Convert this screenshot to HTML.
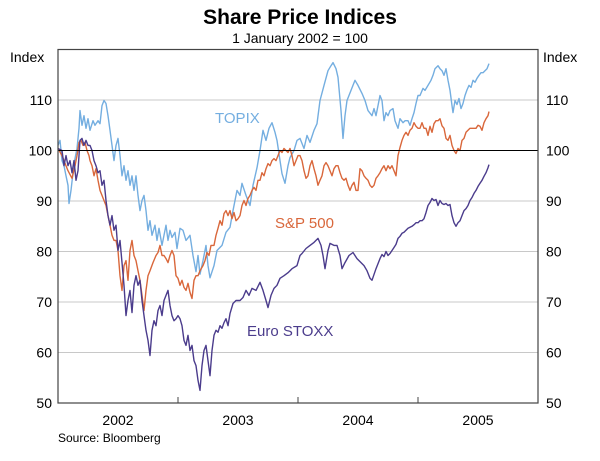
<!DOCTYPE html>
<html><head><meta charset="utf-8"><style>
body{margin:0;background:#fff;}
svg{display:block;font-family:"Liberation Sans",Arial,sans-serif;}
</style></head><body>
<svg id="chart" width="600" height="461" viewBox="0 0 600 461">
<text x="300" y="24" text-anchor="middle" font-size="21" font-weight="bold">Share Price Indices</text>
<text x="300" y="43" text-anchor="middle" font-size="14">1 January 2002 = 100</text>
<text x="10" y="62" font-size="14">Index</text>
<text x="543" y="62" font-size="14">Index</text>
<g id="grid"></g><g id="series"></g><g id="axes"></g>
<text x="215" y="123" font-size="15" fill="#74aee0">TOPIX</text>
<text x="275" y="228" font-size="15" fill="#d9673b">S&amp;P 500</text>
<text x="247" y="336" font-size="15" fill="#4b3c8c">Euro STOXX</text>
<text x="58" y="442" font-size="12">Source: Bloomberg</text>
</svg>
<script>
const yTicks=[50,60,70,80,90,100,110];
const years=["2002","2003","2004","2005"];
const topixMonths=[0,0.2,0.4,0.6,0.8,1.0,1.1,1.3,1.5,1.7,1.9,2.1,2.2,2.4,2.6,2.8,3.0,3.2,3.5,3.7,4.0,4.2,4.4,4.6,4.8,5.0,5.2,5.4,5.6,5.8,6.0,6.2,6.4,6.6,6.8,7.0,7.2,7.4,7.6,7.8,8.0,8.2,8.4,8.6,8.8,9.0,9.2,9.4,9.7,9.9,10.1,10.4,10.6,10.8,11.0,11.2,11.4,11.7,11.9,12.2,12.5,12.8,13.2,13.5,13.8,14.0,14.2,14.5,14.8,15.0,
15.2,15.6,15.9,16.4,16.8,17.2,17.5,17.9,18.2,18.4,18.8,19.2,19.5,19.9,20.2,20.5,20.8,21.1,21.4,21.7,21.9,22.2,22.4,22.7,23.0,23.2,23.6,23.9,24.2,24.6,24.9,25.2,25.6,25.9,26.2,26.6,27.0,27.3,27.5,27.8,28.0,28.3,28.5,28.7,28.9,29.3,29.7,30.0,30.4,30.7,31.0,
31.4,31.6,31.8,32.0,32.2,32.4,32.6,32.8,33.0,33.2,33.5,33.7,34.0,34.2,34.5,34.7,35.0,35.2,35.4,35.6,35.8,36.0,36.2,36.5,36.7,37.0,37.3,37.5,37.7,38.0,38.2,38.4,38.6,38.8,39.0,39.2,39.4,39.5,39.7,39.9,40.1,40.3,40.5,40.7,40.9,41.1,41.3,41.5,41.7,41.9,42.1,42.3,42.5,42.7,42.9,43.1];
const topixValues=[101.0,102.0,98.0,97.0,95.0,93.1,89.5,92.1,95.6,98.4,100.4,104.4,107.9,105.0,106.9,104.4,106.3,104.0,105.9,105.0,105.9,105.3,108.9,109.9,109.3,106.9,104.0,101.0,98.0,101.0,102.4,99.0,95.0,97.0,94.1,96.0,93.1,95.0,92.1,95.0,91.1,88.1,90.1,91.1,88.1,84.2,86.1,83.2,85.2,82.2,84.6,81.2,83.2,85.2,82.2,84.2,82.8,83.8,80.6,84.6,84.2,82.2,83.2,79.2,76.0,79.2,75.5,78.2,81.2,77.2,
74.8,77.2,80.2,81.2,83.8,84.8,88.1,92.1,91.1,93.5,91.1,89.1,93.1,96.6,100.0,104.0,102.0,104.4,105.5,103.6,102.0,98.0,95.4,93.5,97.0,98.6,100.0,102.0,102.4,100.4,103.0,101.6,104.0,105.3,109.9,112.9,115.8,116.8,117.4,116.2,114.5,107.9,102.4,106.9,109.9,111.9,113.9,112.9,111.3,109.9,107.9,
106.9,108.3,106.9,108.9,110.9,109.9,105.9,107.5,106.9,107.9,108.3,105.9,104.4,106.3,105.5,105.9,105.9,105.0,106.3,107.5,109.3,110.9,110.9,112.3,111.9,112.9,113.9,114.9,116.2,116.8,116.2,115.8,114.9,116.2,113.9,111.9,108.9,107.5,109.9,109.1,110.3,108.3,109.3,110.9,112.0,112.9,112.5,113.9,113.5,114.3,114.9,115.4,115.4,115.8,116.2,117.2];
const spMonths=[0,0.4,0.8,1.0,1.4,1.7,1.9,2.1,2.3,2.5,2.7,2.9,3.1,3.2,3.4,3.6,3.8,4.0,4.2,4.4,4.6,4.8,5.0,5.2,5.4,5.6,5.8,6.0,6.2,6.4,6.6,6.8,7.0,7.2,7.4,7.6,7.8,8.0,8.2,8.4,8.6,8.8,9.0,9.2,9.5,9.8,10.0,10.2,10.4,10.6,10.8,11.0,11.2,11.4,11.6,11.8,12.0,12.2,12.4,12.6,12.8,13.0,13.2,13.4,13.6,13.8,14.0,14.2,14.5,14.7,14.9,15.1,15.3,15.6,15.8,16.0,16.2,16.4,16.6,16.8,17.0,17.2,17.4,17.6,17.8,18.0,18.2,18.4,18.6,18.8,19.0,19.2,19.4,19.6,19.8,20.0,20.2,20.4,20.6,20.8,21.0,21.2,21.4,21.6,21.8,22.0,22.2,22.4,22.6,22.8,23.0,23.2,23.4,23.6,23.8,24.0,24.2,24.4,24.6,24.8,25.0,25.2,25.4,25.6,25.8,26.0,26.2,26.4,26.6,26.8,27.0,27.2,27.4,27.6,27.8,28.0,28.2,28.4,28.6,28.8,29.0,29.2,29.4,29.6,29.8,30.0,30.2,30.4,30.6,30.8,31.0,31.2,31.4,31.6,31.8,32.0,32.2,32.4,32.6,32.8,33.0,33.2,33.4,33.6,33.8,34.0,34.2,34.4,34.6,34.8,35.0,35.2,35.4,35.6,35.8,36.0,36.2,36.4,36.6,36.8,37.0,37.2,37.4,37.6,37.8,38.0,38.2,38.4,38.6,38.8,39.0,39.2,39.4,39.6,39.8,40.0,40.2,40.4,40.6,40.8,41.0,41.2,41.4,41.6,41.8,42.0,42.2,42.4,42.6,42.8,43.0,43.1];
const spValues=[100.4,99.0,97.0,96.0,94.5,97.0,99.0,101.6,102.0,101.0,101.6,100.0,99.0,98.0,97.0,95.0,96.4,94.1,92.1,91.1,90.1,89.1,87.1,85.2,83.2,82.2,82.2,80.2,75.2,72.3,77.2,78.2,74.3,80.2,82.2,79.2,78.2,76.2,74.3,71.3,68.3,72.3,75.2,76.2,77.8,79.2,79.8,81.2,79.2,79.2,78.6,77.8,79.2,80.2,79.2,75.2,74.7,73.3,74.3,72.9,72.3,73.7,71.9,70.7,74.3,75.2,75.2,76.2,77.2,78.2,79.8,79.2,81.2,81.2,83.2,84.6,86.1,85.2,87.5,88.1,87.1,88.1,86.5,87.7,86.1,86.5,87.1,89.1,90.1,89.1,90.5,91.1,92.1,92.7,92.1,94.1,94.1,95.6,95.0,96.4,97.4,97.0,98.0,98.4,98.0,99.0,100.0,99.6,100.4,100.0,99.6,100.4,99.0,97.0,98.0,99.0,99.0,98.0,96.0,94.5,95.0,97.0,98.0,96.4,95.0,93.1,94.1,95.0,97.0,97.6,97.0,96.0,95.0,96.4,97.0,97.0,95.6,94.5,94.1,94.5,93.1,92.1,93.1,93.7,92.1,92.1,96.4,96.0,95.0,94.5,94.1,93.1,92.7,93.1,94.5,95.0,95.6,96.4,97.0,96.0,97.0,96.4,97.0,96.0,95.0,99.0,100.6,102.0,103.0,103.6,103.0,104.0,104.4,105.5,104.8,104.4,104.4,105.5,104.4,104.4,103.0,104.8,103.6,105.3,105.9,105.9,106.3,104.9,104.4,102.4,102.0,103.0,101.0,100.0,99.4,100.4,100.0,102.0,102.4,103.6,104.0,104.4,104.4,104.4,104.4,105.0,104.8,104.0,105.5,106.3,106.9,107.7];
const stoxxMonths=[0,0.4,0.6,0.8,1.0,1.2,1.4,1.6,1.8,2.0,2.2,2.4,2.6,2.8,3.0,3.2,3.4,3.6,3.8,4.0,4.2,4.4,4.6,4.8,5.0,5.2,5.4,5.6,5.8,6.0,6.2,6.4,6.6,6.8,7.0,7.2,7.4,7.6,7.8,8.0,8.2,8.4,8.6,8.8,9.0,9.2,9.4,9.6,9.8,10.0,10.2,10.4,10.6,10.8,11.0,11.2,11.4,11.6,11.8,12.0,12.2,12.4,12.6,12.8,13.0,13.2,13.4,13.6,13.8,14.0,14.2,14.4,14.6,14.8,15.0,15.2,15.4,15.6,15.8,16.0,16.2,16.4,16.6,16.8,17.0,
17.2,17.5,17.8,18.2,18.5,18.8,19.1,19.4,19.8,20.2,20.5,20.8,21.0,21.3,21.6,21.9,22.2,22.6,23.0,23.4,23.9,24.2,24.4,24.8,25.2,25.6,26.0,26.3,26.5,26.7,27.0,27.2,27.6,27.9,28.2,28.4,28.7,29.1,29.5,29.9,30.3,30.6,30.9,31.2,31.4,31.8,32.2,
32.4,32.6,32.8,33.0,33.2,33.4,33.6,33.8,34.0,34.2,34.4,34.6,34.8,35.0,35.2,35.4,35.6,35.8,36.0,36.2,36.4,36.6,36.8,37.0,37.2,37.4,37.6,37.8,38.0,38.2,38.4,38.6,38.8,39.0,39.2,39.4,39.6,39.8,40.0,40.2,40.4,40.6,40.8,41.0,41.2,41.4,41.6,41.8,42.0,42.2,42.4,42.6,42.8,43.0,43.1];
const stoxxValues=[100.4,100.0,97.0,99.0,97.0,98.0,95.6,98.0,94.1,96.0,102.0,102.4,101.0,102.0,101.0,101.0,100.0,98.0,97.0,95.6,96.0,93.1,94.1,90.1,87.1,85.2,87.1,84.2,85.2,80.2,82.2,77.8,73.3,67.3,70.3,72.3,67.9,73.3,75.2,73.3,74.3,70.3,67.3,64.4,62.4,59.4,64.4,66.3,65.3,68.3,69.3,67.3,70.3,71.3,72.3,69.3,67.3,66.3,66.7,67.3,66.7,65.3,62.4,61.4,63.4,60.4,61.4,58.4,57.4,54.5,52.5,57.4,60.4,61.4,58.4,55.4,60.4,63.4,64.4,64.0,65.3,64.8,65.9,66.7,65.3,
67.7,69.7,70.3,70.3,70.9,72.3,71.3,72.7,72.3,73.9,72.3,70.3,68.9,71.3,72.7,73.3,74.7,75.2,75.8,76.6,77.2,79.2,79.6,80.6,81.2,81.8,82.6,81.2,79.2,76.6,80.2,81.6,81.2,81.2,79.2,76.6,77.8,79.2,79.8,78.6,77.8,77.2,76.2,74.7,74.3,76.6,78.6,
79.4,79.0,80.0,79.2,79.6,80.2,80.8,81.4,82.6,83.0,83.6,83.8,84.2,84.6,84.8,85.0,85.3,85.7,85.7,86.1,86.1,86.5,87.7,89.1,89.7,90.5,90.1,90.3,89.1,90.1,89.5,89.3,89.5,89.1,89.3,87.1,85.7,85.0,85.7,86.1,87.1,88.1,88.5,89.1,90.1,90.7,91.5,92.1,92.9,93.5,94.1,94.9,95.6,96.6,97.2];

const NS="http://www.w3.org/2000/svg";
const L=58,R=538,T=49.5,B=403;
const xS=m=>L+m*10;
const yS=v=>B-(v-50)*(B-T)/70;
const grid=document.getElementById('grid'),ser=document.getElementById('series'),ax=document.getElementById('axes');
function mk(tag,attrs,parent){const e=document.createElementNS(NS,tag);for(const k in attrs)e.setAttribute(k,attrs[k]);parent.appendChild(e);return e;}
yTicks.forEach(v=>{
  if(v>50&&v!==100){const g=mk('line',{x1:L,x2:R,y1:yS(v),y2:yS(v),stroke:'#c8c8c8','stroke-width':1},grid);
    
    }
  const tl=mk('text',{x:52,y:yS(v)+5,'text-anchor':'end','font-size':14},ax);tl.textContent=v;
  
  
  const tr=mk('text',{x:546,y:yS(v)+5,'font-size':14},ax);tr.textContent=v;
  
  
});
function line(ms,vs,col,name){let d='';ms.forEach((m,i)=>{d+=(i?'L':'M')+xS(m).toFixed(1)+','+yS(vs[i]).toFixed(1);});
  const p=mk('path',{d:d,fill:'none',stroke:col,'stroke-width':1.4,'stroke-linejoin':'round'},ser);
  
  }
line(topixMonths,topixValues,'#74aee0','topix-line');
line(spMonths,spValues,'#d9673b','sp500-line');
line(stoxxMonths,stoxxValues,'#4b3c8c','euro-stoxx-line');
const ref=mk('line',{x1:L,x2:R,y1:yS(100),y2:yS(100),stroke:'#000','stroke-width':1},ax);


const frame=mk('rect',{x:L,y:T,width:R-L,height:B-T,fill:'none',stroke:'#444','stroke-width':1.2},ax);


years.forEach((y,i)=>{
  if(i>0){const t=mk('line',{x1:xS(12*i),x2:xS(12*i),y1:B,y2:B-6,stroke:'#444','stroke-width':1},ax);
    
    }
  const tx=mk('text',{x:xS(12*i+6),y:425,'text-anchor':'middle','font-size':14},ax);tx.textContent=y;
  
  
});
</script>
</body></html>
